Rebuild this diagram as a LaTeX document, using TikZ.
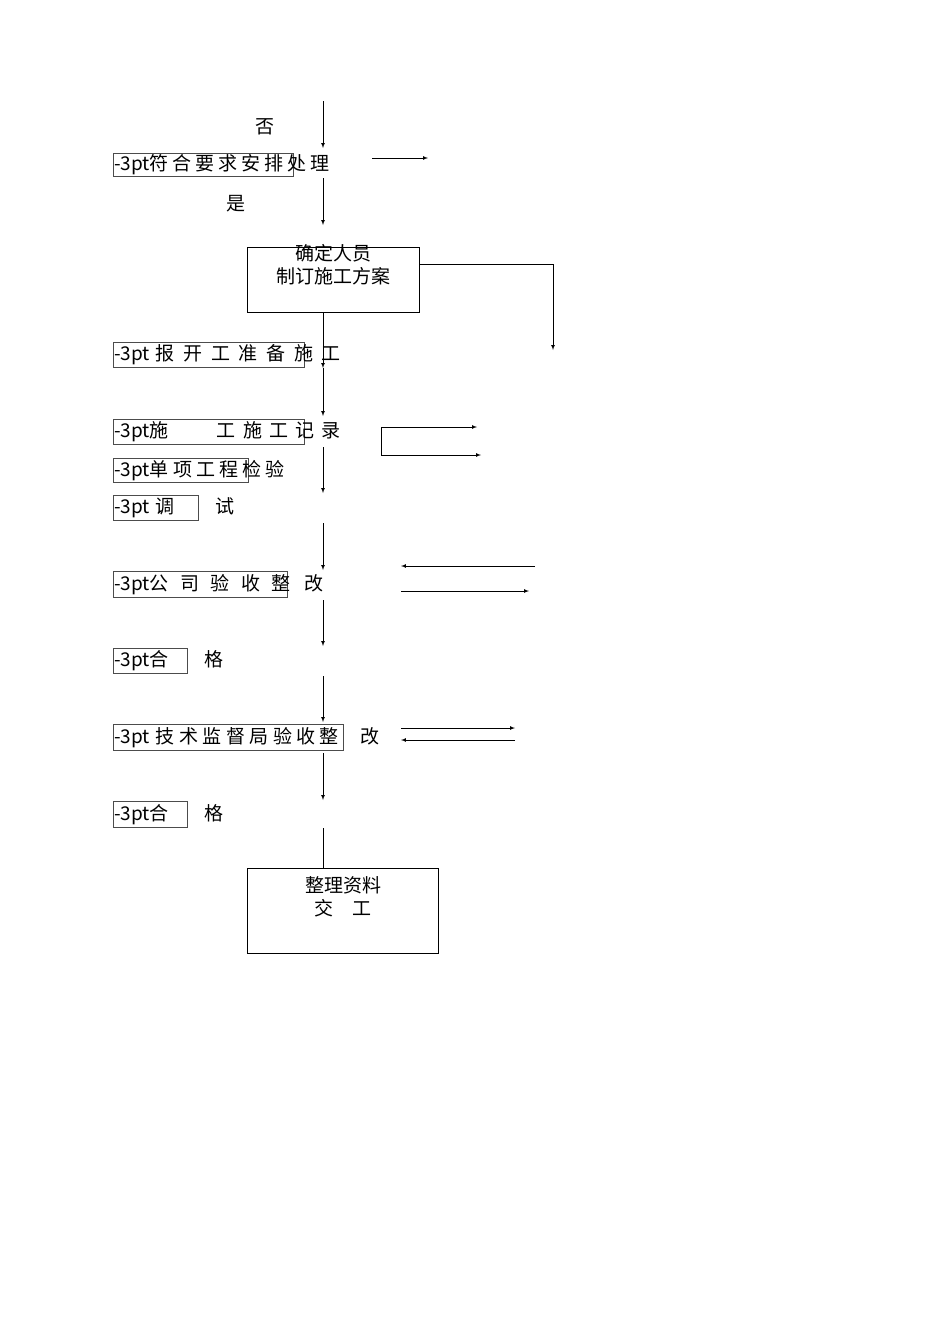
\documentclass[tikz,border=0pt]{standalone}
\usepackage{fontspec}
\newfontfamily\cjk{Noto Sans CJK SC}
\begin{document}
\begin{tikzpicture}[x=1pt,y=-1pt,
  lbl/.style={draw=black!70,line width=0.6pt,anchor=north west,inner sep=0pt,font=\cjk\fontsize{19}{20}\selectfont},
  bx/.style={draw,line width=0.8pt,anchor=north west,inner sep=0pt},
  txt/.style={font=\cjk\fontsize{19}{23}\selectfont,align=center},
  arr/.style={-latex,line width=0.7pt},
  ln/.style={line width=0.7pt}]
\useasboundingbox (0,0) rectangle (950,1344);
\newcommand{\lb}[6]{\node[lbl,minimum width=#4,minimum height=#5] (#1) at (#2,#3) {};
  \node[anchor=west,inner sep=0pt,font=\cjk\fontsize{19}{20}\selectfont] at ([xshift=1]#1.west) {\makebox[#4pt-3pt][s]{#6}};}
\lb{l1}{113}{153}{180}{23}{符\hfil 合\hfil 要\hfil 求\hfil 安\hfil 排\hfil 处\hfil 理}
\lb{l2}{113}{342}{191}{25}{\hspace{6pt}报\hfil 开\hfil 工\hfil 准\hfil 备\hfil 施\hfil 工}
\lb{l3}{113}{419}{191}{25}{施\hspace{48pt}工\hfil 施\hfil 工\hfil 记\hfil 录}
\lb{l4}{113}{458}{135}{24}{单\hfil 项\hfil 工\hfil 程\hfil 检\hfil 验}
\lb{l5}{113}{495}{85}{25}{\hspace{6pt}调\hfil 试}
\lb{l6}{113}{571}{174}{26}{公\hfil 司\hfil 验\hfil 收\hfil 整\hspace{14pt}改}
\lb{l7}{113}{648}{74}{25}{合\hfil 格}
\lb{l8}{113}{724}{230}{26}{\hspace{6pt}技\hfil 术\hfil 监\hfil 督\hfil 局\hfil 验\hfil 收\hfil 整\hspace{22pt}改}
\lb{l9}{113}{801}{74}{26}{合\hfil 格}
\node[txt] (no) at (265,127) {否};
\node[txt] (yes) at (236,204) {是};
\node[bx,minimum width=172,minimum height=65] (b1) at (247,247) {};
\node[txt] (b1t) at (333,265) {确定人员\\制订施工方案};
\node[bx,minimum width=191,minimum height=85] (b2) at (247,868) {};
\node[txt] (b2t) at (343,897) {整理资料\\交\hspace{19pt}工};
\coordinate (t0) at (323,101); \coordinate (t1) at (323,148);
\coordinate (t2) at (323,178); \coordinate (t3) at (323,225);
\coordinate (t4) at (323,368); \coordinate (t5) at (323,416);
\coordinate (t6) at (323,447); \coordinate (t7) at (323,493);
\coordinate (t8) at (323,523); \coordinate (t9) at (323,570);
\coordinate (t10) at (323,600); \coordinate (t11) at (323,646);
\coordinate (t12) at (323,676); \coordinate (t13) at (323,722);
\coordinate (t14) at (323,753); \coordinate (t15) at (323,800);
\coordinate (t16) at (323,828);
\draw[arr] (t0)--(t1); \draw[arr] (t2)--(t3);
\draw[arr] (t4|-b1.south)--(t4); \draw[arr] (t4)--(t5);
\draw[arr] (t6)--(t7); \draw[arr] (t8)--(t9); \draw[arr] (t10)--(t11);
\draw[arr] (t12)--(t13); \draw[arr] (t14)--(t15);
\draw[ln] (t16)--(t16|-b2.north);
\coordinate (r1) at (553,264); \coordinate (r2) at (553,350);
\draw[arr] (r1-|b1.east)--(r1)--(r2);
\coordinate (a1) at (372,158); \coordinate (a2) at (428,158);
\draw[arr] (a1)--(a2);
\coordinate (c1) at (381,427); \coordinate (c2) at (477,427);
\coordinate (c3) at (381,455); \coordinate (c4) at (481,455);
\draw[arr] (c1)--(c2); \draw[arr] (c1)--(c3)--(c4);
\coordinate (d1) at (535,566); \coordinate (d2) at (401,566);
\coordinate (d3) at (401,591); \coordinate (d4) at (529,591);
\draw[arr] (d1)--(d2); \draw[arr] (d3)--(d4);
\coordinate (e1) at (401,728); \coordinate (e2) at (515,728);
\coordinate (e3) at (515,740); \coordinate (e4) at (401,740);
\draw[arr] (e1)--(e2); \draw[arr] (e3)--(e4);
\end{tikzpicture}
\end{document}
